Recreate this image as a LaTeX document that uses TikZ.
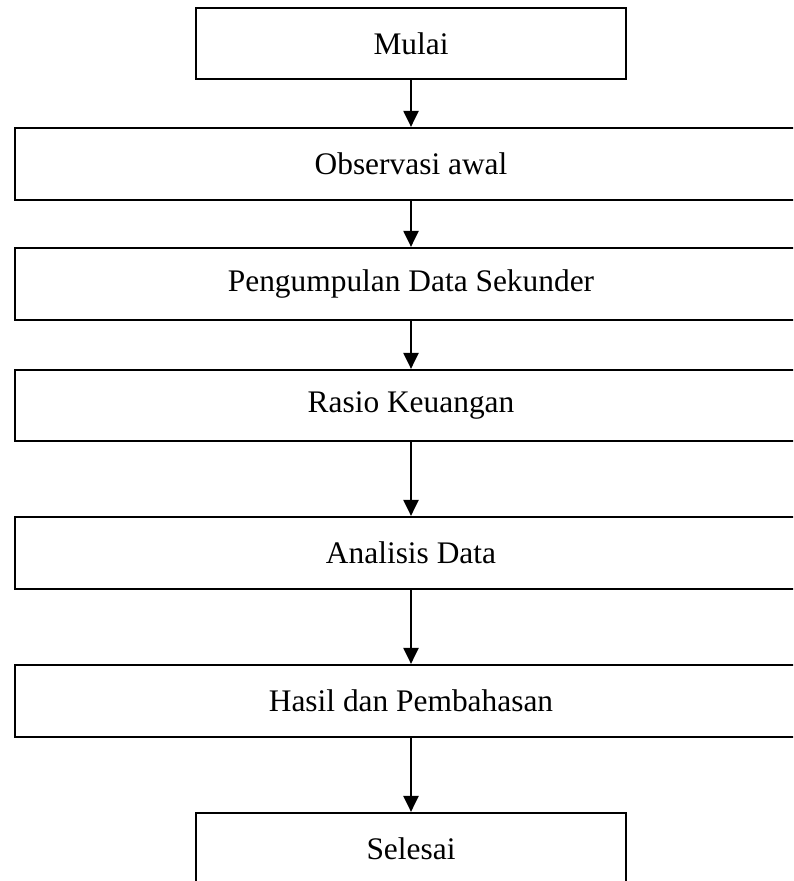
\documentclass[tikz,border=0pt]{standalone}
\usepackage{fontspec}
\setmainfont{Liberation Serif}
\usetikzlibrary{arrows.meta}

\begin{document}
\begin{tikzpicture}[x=0.5pt, y=-0.5pt,
  box/.style={draw, rectangle, line width=1.1pt, minimum height=36pt, inner sep=0pt,
    font=\fontsize{15.7}{19}\selectfont},
  wide/.style={box, minimum width=396pt},
  ends/.style={box, minimum width=215pt},
  flow/.style={-{Triangle[width=7.5pt,length=8pt]}, line width=1.1pt}]
\clip (0,0) rectangle (793,881);
\fill[white] (0,0) rectangle (793,881);

% Start
\node[ends, minimum height=35.5pt] (mulai) at (411,43.5) {Mulai};

% Steps
\node[wide] (observasi) at (411,164) {Observasi awal};
\node[wide] (pengumpulan) at (411,284) {Pengumpulan Data Sekunder};
\node[wide, minimum height=35.5pt] (rasio) at (411,405.5) {Rasio Keuangan};
\node[wide] (analisis) at (411,553) {Analisis Data};
\node[wide] (hasil) at (411,701) {Hasil dan Pembahasan};

% End
\node[ends] (selesai) at (411,849) {Selesai};

% Arrows
\draw[flow] (mulai) -- (observasi);
\draw[flow] (observasi) -- (pengumpulan);
\draw[flow] (pengumpulan) -- (rasio);
\draw[flow] (rasio) -- (analisis);
\draw[flow] (analisis) -- (hasil);
\draw[flow] (hasil) -- (selesai);
\end{tikzpicture}
\end{document}
